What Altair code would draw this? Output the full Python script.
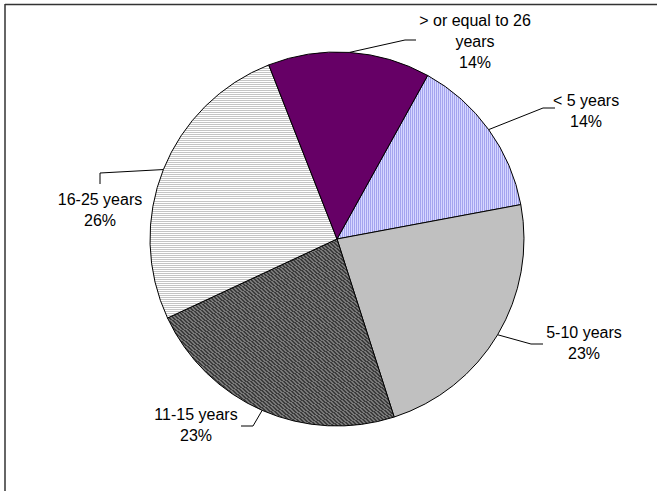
import math

import altair as alt
import pandas as pd

# Years-of-service breakdown
categories = ["< 5 years", "5-10 years", "11-15 years", "16-25 years", "> or equal to 26 years"]
percents = [14, 23, 23, 26, 14]
# how each category name wraps in its label
wrapped_names = ["< 5 years", "5-10 years", "11-15 years", "16-25 years", "> or equal to 26\nyears"]

# Layout (pixels)
W, H = 657, 491
CX, CY, R = 337, 239, 187
START_DEG = 29
label_pos = [(586, 93), (584, 325), (196, 407), (100, 192), (475, 13)]
leader_elbow = [(543, 108), (531, 344), (253, 426), (100, 173), (405, 40)]
leader_end = [(555, 108), (543, 344), (241, 426), (100, 184), (416, 40)]


def stripes(c1, c2, periods, x1, y1, x2, y2):
    """Hard-stop linear gradient that draws fine hatch lines."""
    stops = []
    for k in range(periods):
        a, m, b = k / periods, (k + 0.5) / periods, (k + 1) / periods
        stops += [{"offset": a, "color": c1}, {"offset": m, "color": c1},
                  {"offset": m, "color": c2}, {"offset": b, "color": c2}]
    return {"gradient": "linear", "x1": x1, "y1": y1, "x2": x2, "y2": y2, "stops": stops}


fills = [
    stripes("#D6D6FF", "#A4A4EE", 92, 0, 0, 1, 0),     # light vertical lines
    "#C0C0C0",                                          # plain gray
    stripes("#3C3C3C", "#787878", 110, 0, 1, 1, 0),     # dark diagonal hatch
    stripes("#FFFFFF", "#C4C4C4", 126, 0, 0, 0, 1),     # light horizontal lines
    "#660066",                                          # plain purple
]

total = sum(percents)
start_rad = math.radians(START_DEG)

ends = pd.Series(percents).cumsum()
slices = pd.DataFrame({
    "cat": categories,
    "pct": percents,
    "idx": list(range(len(categories))),
    "start": ends - pd.Series(percents),
    "end": ends,
})

labels = pd.DataFrame({
    "label": [f"{n}\n{p}%" for n, p in zip(wrapped_names, percents)],
    "lx": [p[0] for p in label_pos],
    "ly": [p[1] for p in label_pos],
})

# Leader lines start on the rim at each slice's mid angle
segs = []
cum = 0
for p, elbow, end in zip(percents, leader_elbow, leader_end):
    mid = start_rad + (cum + p / 2) / total * 2 * math.pi
    cum += p
    sx = CX + R * math.sin(mid)
    sy = CY - R * math.cos(mid)
    segs.append({"x": sx, "y": sy, "x2": elbow[0], "y2": elbow[1]})
    segs.append({"x": elbow[0], "y": elbow[1], "x2": end[0], "y2": end[1]})
leaders = pd.DataFrame(segs)

theta_scale = alt.Scale(domain=[0, total], range=[start_rad, start_rad + 2 * math.pi])

wedges = []
for i, fill in enumerate(fills):
    wedges.append(
        alt.Chart(slices)
        .transform_filter(alt.datum.idx == i)
        .mark_arc(radius=R, stroke="black", strokeWidth=1, fill=fill)
        .encode(
            theta=alt.Theta("start:Q", scale=theta_scale),
            theta2="end:Q",
            x=alt.value(CX),
            y=alt.value(CY),
            tooltip=["cat:N", "pct:Q"],
        )
    )

leader_lines = alt.Chart(leaders).mark_rule(color="black", strokeWidth=1).encode(
    x=alt.X("x:Q", scale=None, axis=None),
    y=alt.Y("y:Q", scale=None, axis=None),
    x2="x2:Q",
    y2="y2:Q",
)

text = alt.Chart(labels).mark_text(
    font="Liberation Sans", fontSize=16, lineBreak="\n", lineHeight=21,
    align="center", baseline="top", color="black",
).encode(
    x=alt.X("lx:Q", scale=None, axis=None),
    y=alt.Y("ly:Q", scale=None, axis=None),
    text="label:N",
)

frame_data = alt.Data(values=[{}])
frame_top = alt.Chart(frame_data).mark_rule(color="#333333", strokeWidth=1.5).encode(
    x=alt.value(5), x2=alt.value(W), y=alt.value(4.5)
)
frame_left = alt.Chart(frame_data).mark_rule(color="#333333", strokeWidth=1.5).encode(
    x=alt.value(5), y=alt.value(4), y2=alt.value(H)
)

chart = alt.layer(*wedges, leader_lines, text, frame_top, frame_left).properties(
    width=W, height=H, padding=0, background="white",
    autosize=alt.AutoSizeParams(type="none"),
).configure_view(stroke=None)

chart.save("out.html", embed_options={"renderer": "svg", "actions": False})
